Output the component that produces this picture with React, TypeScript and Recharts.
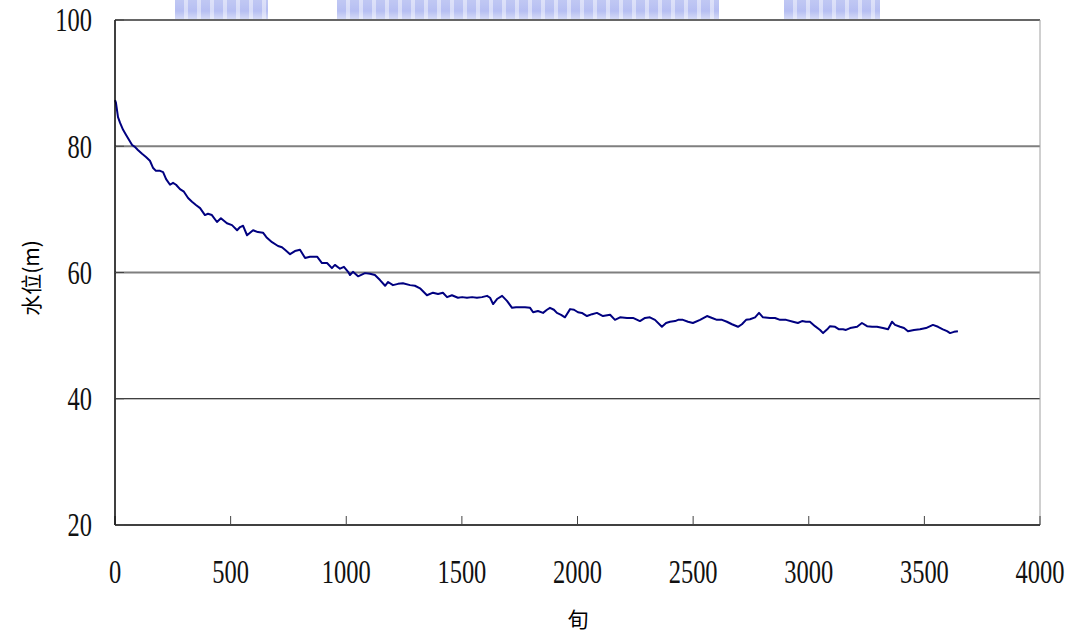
import { LineChart, Line, XAxis, YAxis, ReferenceLine } from "recharts";

// 旬 index along the simulation
const dekads = [
  0, 4, 13, 22, 35, 48, 61, 74, 86, 99, 117, 134, 151, 164, 177, 195, 208, 221, 238, 251,
  264, 281, 298, 316, 333, 350, 368, 389, 402, 419, 441, 458, 471, 484, 506, 528, 541, 554, 571, 584,
  597, 618, 640, 657, 679, 705, 722, 735, 757, 778, 800, 822, 843, 874, 895, 917, 938, 951, 973, 990,
  1008, 1016, 1029, 1051, 1081, 1103, 1124, 1146, 1168, 1181, 1202, 1224, 1245, 1276, 1297, 1319, 1349, 1375, 1397, 1418,
  1436, 1457, 1483, 1501, 1522, 1544, 1565, 1587, 1609, 1622, 1635, 1652, 1674, 1695, 1717, 1734, 1751, 1773, 1795, 1808,
  1829, 1851, 1868, 1881, 1898, 1911, 1929, 1946, 1968, 1985, 2002, 2019, 2041, 2063, 2084, 2110, 2141, 2162, 2184, 2214,
  2240, 2270, 2292, 2313, 2335, 2365, 2383, 2400, 2422, 2435, 2456, 2478, 2499, 2530, 2560, 2582, 2603, 2625, 2646, 2668,
  2694, 2711, 2729, 2746, 2768, 2785, 2802, 2832, 2854, 2876, 2902, 2932, 2953, 2971, 2988, 3005, 3027, 3049, 3062, 3080,
  3092, 3114, 3131, 3148, 3161, 3179, 3209, 3230, 3252, 3274, 3295, 3321, 3343, 3360, 3373, 3395, 3412, 3429, 3455, 3481,
  3507, 3537, 3559, 3580, 3598, 3611, 3628, 3645,
];

// water level (m)
const levels = [
  87.3, 86.9, 84.6, 83.7, 82.6, 81.8, 81.0, 80.2, 79.9, 79.4, 78.8, 78.3, 77.7, 76.6, 76.1, 76.1, 75.9, 74.8, 73.9, 74.2,
  73.9, 73.2, 72.8, 71.8, 71.2, 70.7, 70.2, 69.1, 69.3, 69.1, 68.0, 68.6, 68.2, 67.8, 67.5, 66.7, 67.2, 67.4, 65.9, 66.3,
  66.7, 66.4, 66.3, 65.5, 64.8, 64.2, 64.0, 63.6, 62.9, 63.4, 63.6, 62.3, 62.5, 62.5, 61.5, 61.5, 60.7, 61.2, 60.6, 60.9,
  60.1, 59.6, 60.1, 59.4, 59.9, 59.8, 59.6, 58.8, 57.9, 58.5, 58.0, 58.2, 58.3, 58.0, 57.9, 57.5, 56.4, 56.8, 56.6, 56.8,
  56.1, 56.4, 56.0, 56.1, 56.0, 56.1, 56.0, 56.1, 56.3, 56.0, 55.0, 55.8, 56.3, 55.5, 54.4, 54.5, 54.5, 54.5, 54.4, 53.7,
  53.9, 53.6, 54.1, 54.4, 54.1, 53.6, 53.3, 52.9, 54.2, 54.1, 53.7, 53.6, 53.1, 53.4, 53.6, 53.1, 53.3, 52.5, 52.9, 52.8,
  52.8, 52.3, 52.8, 52.9, 52.5, 51.4, 52.0, 52.2, 52.3, 52.5, 52.5, 52.2, 52.0, 52.5, 53.1, 52.8, 52.5, 52.5, 52.2, 51.8,
  51.4, 51.8, 52.5, 52.6, 52.9, 53.6, 52.9, 52.8, 52.8, 52.5, 52.5, 52.2, 52.0, 52.3, 52.2, 52.2, 51.5, 50.9, 50.4, 51.0,
  51.5, 51.4, 51.0, 51.0, 50.9, 51.2, 51.4, 52.0, 51.5, 51.4, 51.4, 51.2, 51.0, 52.2, 51.7, 51.4, 51.2, 50.7, 50.9, 51.0,
  51.2, 51.7, 51.4, 51.0, 50.7, 50.4, 50.6, 50.7,
];

const xTicks = [0, 500, 1000, 1500, 2000, 2500, 3000, 3500, 4000];
const yTicks = [20, 40, 60, 80, 100];

const rows = dekads.map((d, i) => ({ d, level: levels[i] }));

const numFont = "'Liberation Serif', 'DejaVu Serif', serif";
const cjkFont = "'Noto Sans CJK TC', 'Noto Sans CJK SC', sans-serif";

// tall, narrow digits
const XTick = ({ x, payload }: any) => (
  <g transform={`translate(${x},572)`}>
    <text transform="scale(0.72,1)" textAnchor="middle" dominantBaseline="central" fontSize={34} fontFamily={numFont} fill="#111">
      {payload.value}
    </text>
  </g>
);

const YTick = ({ y, payload }: any) => (
  <g transform={`translate(92,${y})`}>
    <text transform="scale(0.72,1)" textAnchor="end" dominantBaseline="central" fontSize={34} fontFamily={numFont} fill="#111">
      {payload.value}
    </text>
  </g>
);

// faded banner strip above the plot
const banner = [
  { left: 175, width: 93 },
  { left: 337, width: 382 },
  { left: 784, width: 96 },
];

export default function App() {
  return (
    <div style={{ position: "relative", width: 1073, height: 635, background: "#fff" }}>
      <style>{"body{margin:0}"}</style>
      {banner.map((b, i) => (
        <div
          key={i}
          style={{
            position: "absolute",
            top: 0,
            left: b.left,
            width: b.width,
            height: 20,
            background:
              "repeating-linear-gradient(90deg, rgba(255,255,255,0) 0 9px, rgba(255,255,255,0.45) 9px 13px), linear-gradient(180deg, #b6bff2 0%, #aab4f0 55%, #d2d8f7 100%)",
            opacity: 0.85,
          }}
        />
      ))}
      <LineChart width={1073} height={635} data={rows} margin={{ top: 20, right: 33, bottom: 0, left: 0 }}>
        <XAxis
          dataKey="d"
          type="number"
          domain={[0, 4000]}
          ticks={xTicks}
          height={110}
          tickSize={-9}
          tickMargin={0}
          tick={<XTick />}
          axisLine={{ stroke: "#000", strokeWidth: 1.5 }}
          tickLine={{ stroke: "#444" }}
        />
        <YAxis
          type="number"
          domain={[20, 100]}
          ticks={yTicks}
          width={115}
          tickSize={-9}
          tickMargin={0}
          tick={<YTick />}
          axisLine={{ stroke: "#000", strokeWidth: 1.5 }}
          tickLine={{ stroke: "#444" }}
        />
        <ReferenceLine y={100} stroke="#666" strokeWidth={2} />
        <ReferenceLine y={80} stroke="#7f7f7f" strokeWidth={2} />
        <ReferenceLine y={60} stroke="#7f7f7f" strokeWidth={2} />
        <ReferenceLine y={40} stroke="#000" strokeWidth={1} />
        <ReferenceLine x={4000} stroke="#a0a0a0" strokeWidth={1} />
        <Line
          type="linear"
          dataKey="level"
          stroke="#000080"
          strokeWidth={2}
          strokeLinejoin="round"
          dot={false}
          isAnimationActive={false}
        />
      </LineChart>
      <div
        style={{
          position: "absolute",
          left: 30,
          top: 278,
          transform: "translate(-50%,-50%) rotate(-90deg)",
          fontFamily: cjkFont,
          fontSize: 21,
          whiteSpace: "nowrap",
          color: "#000",
        }}
      >
        水位(m)
      </div>
      <div
        style={{
          position: "absolute",
          left: 578,
          top: 618,
          transform: "translate(-50%,-50%)",
          fontFamily: cjkFont,
          fontSize: 21,
          color: "#000",
        }}
      >
        旬
      </div>
    </div>
  );
}
